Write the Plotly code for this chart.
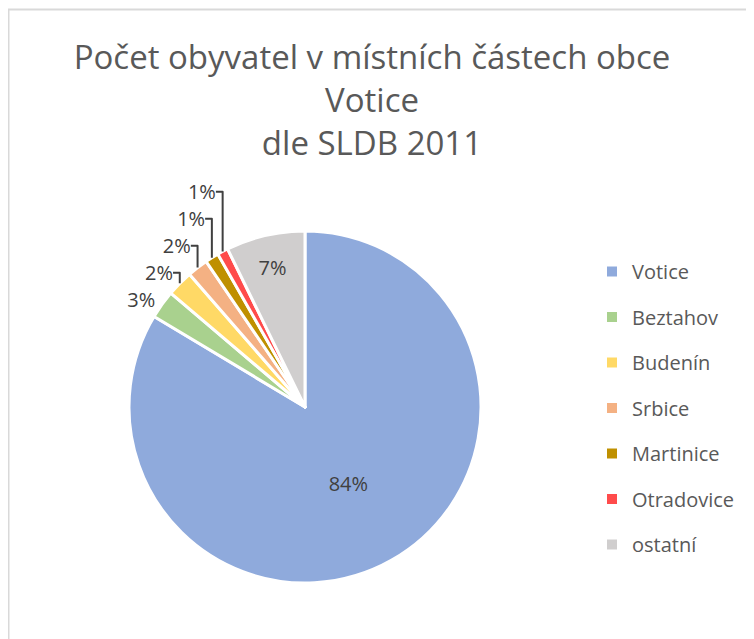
import plotly.graph_objects as go

# casti obce Votice, SLDB 2011 (podil v %)
casti = ["Votice", "Beztahov", "Budenín", "Srbice", "Martinice", "Otradovice", "ostatní"]
podil = [83.6, 2.6, 2.4, 1.9, 1.25, 1.0, 7.25]
barvy = ["#8FAADC", "#A9D18E", "#FFD966", "#F4B183", "#BF9000", "#FF4B4B", "#D0CECE"]
pozice_textu = ["inside", "outside", "outside", "outside", "outside", "outside", "inside"]

# stranka ma okraj 8px, takze graf je o 8px mensi
W, H = 746, 631
FONT = "Open Sans"
SEDA = "#595959"

fig = go.Figure()

fig.add_trace(go.Pie(
	labels=casti,
	values=podil,
	sort=False,
	direction="clockwise",
	rotation=0,
	marker=dict(colors=barvy, line=dict(color="white", width=3)),
	texttemplate="%{percent:.0%}",
	textposition=pozice_textu,
	textfont=dict(family=FONT, size=20, color="#404040"),
	insidetextorientation="horizontal",
	showlegend=False,
	domain=dict(x=[121 / W, 473 / W], y=[1 - 575 / H, 1 - 223 / H]),
))

# legenda - samostatne polozky kvuli vetsim mezeram
for i, (nazev, barva) in enumerate(zip(casti, barvy)):
	fig.add_trace(go.Scatter(
		x=[None], y=[None], mode="markers", name=nazev,
		legendgroup=str(i),
		marker=dict(symbol="square", size=10, color=barva),
	))

fig.update_layout(
	width=W, height=H,
	margin=dict(l=0, r=0, t=0, b=0),
	paper_bgcolor="white",
	plot_bgcolor="white",
	xaxis=dict(visible=False),
	yaxis=dict(visible=False),
	title=dict(
		text="Počet obyvatel v místních částech obce<br>Votice<br>dle SLDB 2011",
		x=(372 - 8) / W, xanchor="center", y=1 - 61 / H, yanchor="top",
		font=dict(family=FONT, size=33, color=SEDA),
	),
	legend=dict(
		x=584 / W, xanchor="left", y=1 - 244 / H, yanchor="top",
		font=dict(family=FONT, size=20, color=SEDA),
		tracegroupgap=16.5,
		itemwidth=30,
		bgcolor="rgba(0,0,0,0)",
	),
	shapes=[dict(
		type="rect", xref="paper", yref="paper",
		x0=0.5 / W, x1=1.1, y0=-0.1, y1=1 - 1.5 / H,
		line=dict(color="#D9D9D9", width=2),
	)],
)

fig.write_html("out.html")
